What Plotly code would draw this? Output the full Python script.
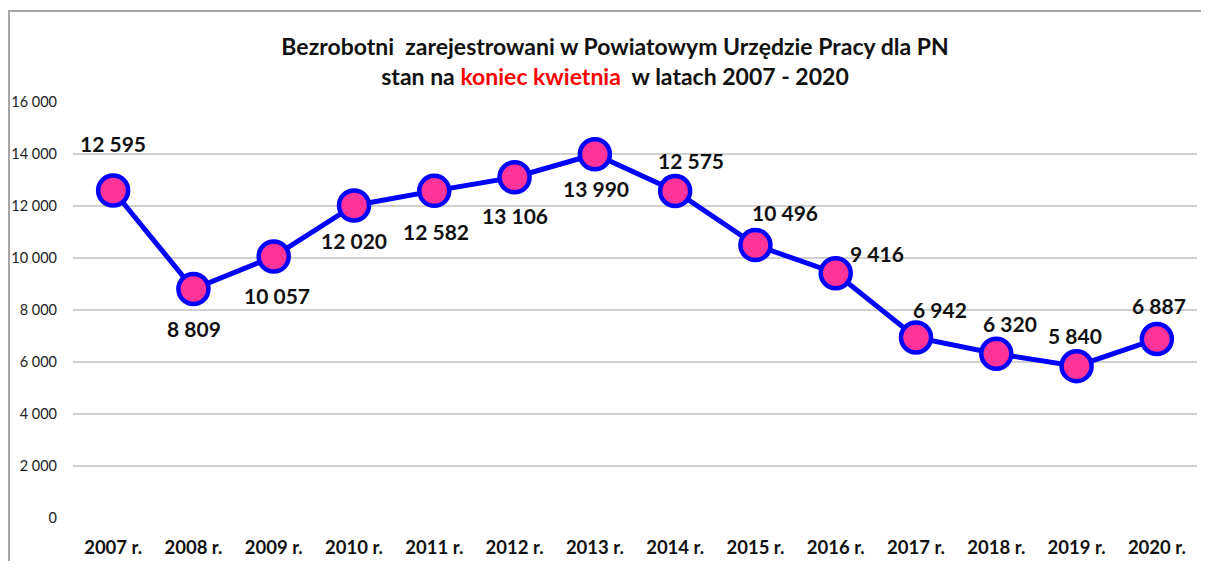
import plotly.graph_objects as go

years = ["2007 r.", "2008 r.", "2009 r.", "2010 r.", "2011 r.", "2012 r.", "2013 r.",
         "2014 r.", "2015 r.", "2016 r.", "2017 r.", "2018 r.", "2019 r.", "2020 r."]
unemployed = [12595, 8809, 10057, 12020, 12582, 13106, 13990,
              12575, 10496, 9416, 6942, 6320, 5840, 6887]
y_ticks = [0, 2000, 4000, 6000, 8000, 10000, 12000, 14000, 16000]

# label offsets (px) relative to the marker, styling only
label_dx = [0, 1, 3, 0, 2, 0, 1, 16, 30, 41, 24, 14, -2, 2]
label_dy = [-47, 40, 39, 35, 41, 38, 34, -31, -33, -20, -28, -30, -31, -33]

FONT = "Lato"
OFF = 8  # page body margin

W, H = 1209 - 2 * OFF, 569 - 2 * OFF
L = 73 - OFF
T = 102 - OFF
R = W - (1197 - OFF)
B = H - (518 - OFF)
pw, ph = W - L - R, H - T - B

def px_x(x):
    return (x - OFF - L) / pw

def px_y(y):
    return (H - B - (y - OFF)) / ph

fig = go.Figure()
fig.add_trace(go.Scatter(
    x=years, y=unemployed, mode="lines+markers",
    line=dict(color="#0000FF", width=5),
    marker=dict(size=30, color="#FF3399", line=dict(color="#0000FF", width=4.5)),
    hoverinfo="x+y", showlegend=False,
))

for i, (cat, v) in enumerate(zip(years, unemployed)):
    fig.add_annotation(
        x=cat, y=v, text=f"<b>{v:,}</b>".replace(",", " "),
        showarrow=False, xshift=label_dx[i], yshift=-label_dy[i],
        font=dict(family=FONT, size=21, color="#111111"),
        xanchor="center", yanchor="middle",
    )

fig.add_shape(type="rect", xref="paper", yref="paper",
              x0=px_x(9), x1=px_x(1240), y0=px_y(600), y1=px_y(11),
              line=dict(color="#a6a6a6", width=2), fillcolor="rgba(0,0,0,0)", layer="below")

fig.update_layout(
    width=W, height=H,
    margin=dict(l=L, r=R, t=T, b=B, autoexpand=False),
    paper_bgcolor="white", plot_bgcolor="white",
    separators=", ",
    title=dict(
        text="<b>Bezrobotni  zarejestrowani w Powiatowym Urzędzie Pracy dla PN</b><br>"
             "<b>stan na <span style='color:#FF0000'>koniec kwietnia</span>  w latach 2007 - 2020</b>",
        x=(615 - OFF) / W, xanchor="center", xref="container",
        y=1 - (55 - OFF) / H, yanchor="middle", yref="container",
        font=dict(family=FONT, size=23, color="#111111"),
    ),
    xaxis=dict(
        type="category", range=[-0.5, 13.5], showgrid=False, zeroline=False,
        showline=False, ticks="",
        tickfont=dict(family=FONT, size=18.5, color="#111111"),
        tickprefix="<b>", ticksuffix="</b>", ticklabelstandoff=16,
    ),
    yaxis=dict(
        range=[0, 16000], tickvals=y_ticks, tickformat=",d",
        showgrid=True, gridcolor="#d0d0d0", gridwidth=1.5,
        zeroline=False, showline=False, ticks="",
        tickfont=dict(family=FONT, size=14.5, color="#222222"),
        tickprefix="<b>", ticksuffix="</b>", ticklabelstandoff=15,
    ),
)

fig.write_html("out.html")
